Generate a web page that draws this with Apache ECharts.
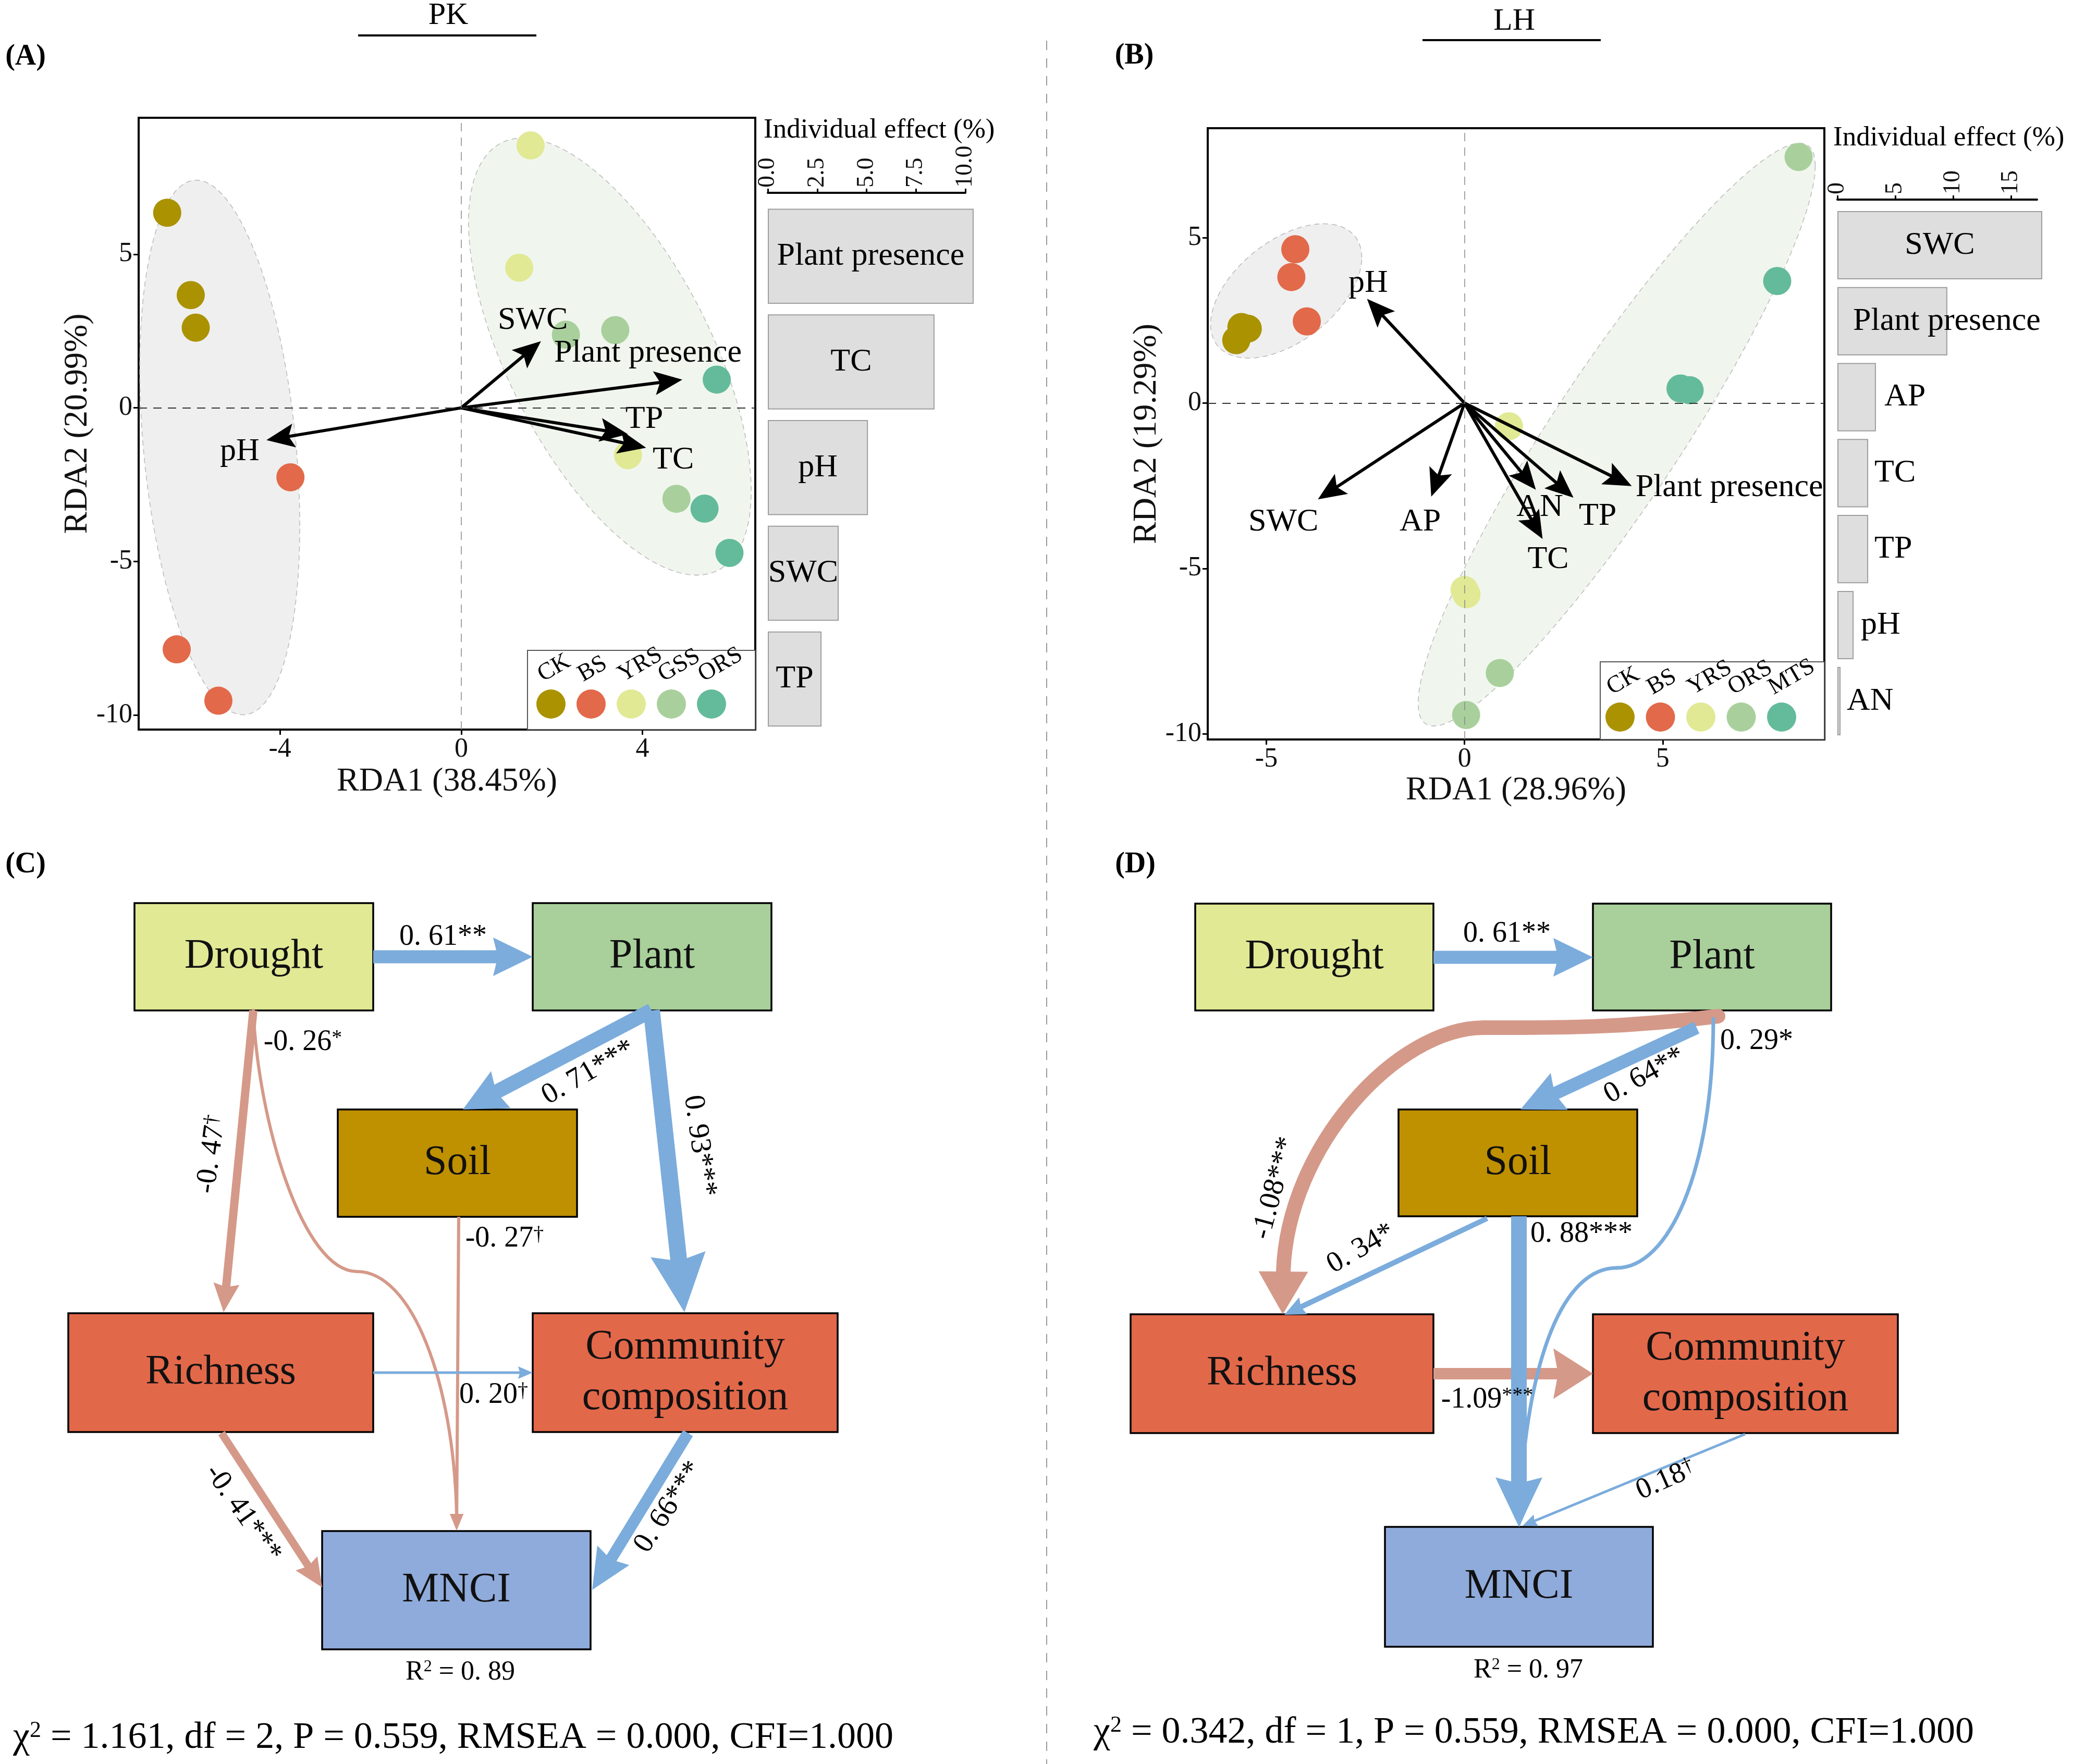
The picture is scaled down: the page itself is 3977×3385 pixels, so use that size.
<!DOCTYPE html>
<html><head><meta charset="utf-8">
<script src="https://cdn.jsdelivr.net/npm/echarts@6/dist/echarts.min.js"></script>
<style>html,body{margin:0;padding:0;background:#fff}#c{width:3977px;height:3385px}</style>
</head><body><div id="c"></div>
<script>
// ================= DATA =================
// Panel A (PK) RDA biplot
const groupsA = ['CK','BS','YRS','GSS','ORS'];
const pointsA = [
  [[-6.49,6.35],[-5.97,3.67],[-5.86,2.61]],
  [[-3.77,-2.26],[-6.28,-7.86],[-5.36,-9.53]],
  [[1.53,8.54],[1.28,4.56],[3.68,-1.54]],
  [[2.31,2.38],[3.40,2.53],[4.75,-2.96]],
  [[5.64,0.92],[5.37,-3.28],[5.92,-4.72]]
];
const envA = ['pH','SWC','Plant presence','TP','TC'];
const envTipsA = [[-4.30,-1.05],[1.76,2.17],[4.88,0.92],[3.68,-0.86],[4.08,-1.30]];
const envLabelPosA = [[-4.89,-1.42],[1.58,2.85],[4.12,1.78],[4.04,-0.37],[4.68,-1.69]];
// ellipse: centre x, centre y, var x, cov xy, var y (data units)
const ellipsesA = [[-5.33,-1.29,3.119,-4.50,75.69],[3.28,1.67,9.73,-13.64,50.6]];
const axisTitlesA = ['RDA1 (38.45%)','RDA2 (20.99%)'];
const effectVarsA = ['Plant presence','TC','pH','SWC','TP'];
const effectValsA = [10.42,8.44,5.07,3.59,2.72];
const effectTicksA = [0,2.5,5,7.5,10];

// Panel B (LH) RDA biplot
const groupsB = ['CK','BS','YRS','ORS','MTS'];
const pointsB = [
  [[-5.76,1.90],[-5.63,2.30],[-5.47,2.25]],
  [[-4.27,4.65],[-4.37,3.81],[-3.98,2.47]],
  [[1.12,-0.70],[0.00,-5.65],[0.05,-5.78]],
  [[8.43,7.44],[0.89,-8.16],[0.04,-9.43]],
  [[7.89,3.69],[5.45,0.44],[5.68,0.39]]
];
const envB = ['pH','SWC','AP','AN','TC','TP','Plant presence'];
const envTipsB = [[-2.46,3.15],[-3.70,-2.91],[-0.84,-2.83],[1.80,-2.62],[1.97,-4.11],[2.75,-2.86],[4.22,-2.51]];
const envLabelPosB = [[-2.43,3.62],[-4.57,-3.60],[-1.12,-3.60],[1.90,-3.15],[2.11,-4.73],[3.36,-3.43],[6.68,-2.56]];
const ellipsesB = [[-4.50,3.39,3.637,1.924,4.125],[3.84,-0.954,25.1,40.68,77.6]];
const axisTitlesB = ['RDA1 (28.96%)','RDA2 (19.29%)'];
const effectVarsB = ['SWC','Plant presence','AP','TC','TP','pH','AN'];
const effectValsB = [17.7,9.5,3.33,2.66,2.66,1.4,0.27];
const effectTicksB = [0,5,10,15];

// Panels C & D: structural equation models
const semNodes = ['Drought','Plant','Soil','Richness','Community','MNCI'];
const semNodeText = ['Drought','Plant','Soil','Richness','Community\ncomposition','MNCI'];
const semPathsC = [
  ['Drought','Plant',0.61,'0. 61**'],
  ['Drought','Richness',-0.47,'-0. 47^†'],
  ['Drought','MNCI',-0.26,'-0. 26^*'],
  ['Soil','MNCI',-0.27,'-0. 27^†'],
  ['Plant','Soil',0.71,'0. 71***'],
  ['Plant','Community',0.93,'0. 93***'],
  ['Richness','Community',0.20,'0. 20^†'],
  ['Richness','MNCI',-0.41,'-0. 41***'],
  ['Community','MNCI',0.66,'0. 66***']
];
const semPathsD = [
  ['Drought','Plant',0.61,'0. 61**'],
  ['Plant','Richness',-1.08,'-1.08***'],
  ['Plant','Soil',0.64,'0. 64**'],
  ['Plant','MNCI',0.29,'0. 29*'],
  ['Soil','Richness',0.34,'0. 34*'],
  ['Soil','MNCI',0.88,'0. 88***'],
  ['Richness','Community',-1.09,'-1.09^***'],
  ['Community','MNCI',0.18,'0.18^†']
];
const r2C = '0. 89', r2D = '0. 97';
const fitC = ' = 1.161, df = 2, P = 0.559, RMSEA = 0.000, CFI=1.000';
const fitD = ' = 0.342, df = 1, P = 0.559, RMSEA = 0.000, CFI=1.000';

// ================= STYLE / LAYOUT =================
const FONT = 'Liberation Serif';
const ptColorsA = ['#AA9200','#E2694A','#E1E995','#A9D09C','#64BB9B'];
const ptColorsB = ['#AA9200','#E2694A','#E1E995','#A9D09C','#64BB9B'];
const ellFills = ['#EFEFEF','#F0F6EE'];
const BLUE = '#7BACDC', PINK = '#D59989';
const nodeFill = {Drought:'#E1E995',Plant:'#A9D09B',Soil:'#BF9000',Richness:'#E2684A',Community:'#E2684A',MNCI:'#8FABDB'};
// diagram layout (pixel units of the hidden full-page grid)
const boxesC = {Drought:[258,1733,458,206],Plant:[1022,1733,458,206],Soil:[648,2129,459,206],
  Richness:[131,2520,585,228],Community:[1022,2520,585,228],MNCI:[618,2938,515,227]};
const boxesD = {Drought:[2293,1734,457,205],Plant:[3056,1734,457,205],Soil:[2683,2129,458,205],
  Richness:[2169,2522,581,228],Community:[3056,2522,585,228],MNCI:[2657,2930,514,230]};
const geomC = [
  {t:'line',p:[[716,1836],[1022,1836]],w:25,L:76,W:74,lab:[850,1798,0]},
  {t:'line',p:[[486,1939],[429,2518]],w:16,L:55,W:50,lab:[406,2215,82]},
  {t:'bez',p:[[486,1939],[495,2150],[580,2440],[685,2440],[790,2440],[870,2650],[876,2905]],tip:[876,2937],w:6,W:26,lab:[581,2000,0]},
  {t:'line',p:[[880,2335],[876,2937]],w:6,L:32,W:26,lab:[968,2377,0]},
  {t:'line',p:[[1250,1939],[888,2129]],w:28,L:82,W:80,lab:[1129,2058,30]},
  {t:'line',p:[[1250,1939],[1313,2518]],w:32,L:112,W:106,lab:[1342,2199,-82]},
  {t:'line',p:[[716,2634],[1022,2634]],w:5,L:28,W:24,lab:[947,2677,0]},
  {t:'line',p:[[425,2750],[618,3046]],w:15,L:55,W:50,lab:[466,2904,-55]},
  {t:'line',p:[[1320,2750],[1136,3051]],w:22,L:78,W:72,lab:[1283,2892,57]}
];
const geomD = [
  {t:'line',p:[[2750,1837],[3056,1837]],w:25,L:76,W:74,lab:[2891,1792,0]},
  {t:'bez',p:[[3296,1950],[3100,1975],[2950,1972],[2847,1972],[2680,1972],[2470,2200],[2462,2440]],tip:[2461,2522],w:28,W:95,lab:[2446,2280,75]},
  {t:'line',p:[[3255,1972],[2917,2129]],w:25,L:82,W:78,lab:[3155,2064,29]},
  {t:'bez',p:[[3287,1955],[3287,2250],[3200,2433],[3102,2433],[3000,2433],[2930,2600],[2915,2900]],tip:[2915,2930],w:7,W:26,lab:[3370,1998,0]},
  {t:'line',p:[[2853,2338],[2464,2523]],w:10,L:40,W:36,lab:[2611,2396,30]},
  {t:'line',p:[[2914,2334],[2914,2930]],w:30,L:95,W:90,lab:[3034,2368,0]},
  {t:'line',p:[[2750,2636],[3056,2636]],w:22,L:76,W:97,lab:[2853,2686,0]},
  {t:'line',p:[[3348,2752],[2921,2928]],w:5,L:28,W:24,lab:[3196,2840,24]}
];
const barLabelB = [['inside',0],['insideLeft',30],['right',16],['right',12],['right',12],['right',14],['right',12]];

// ================= HELPERS =================
function ellipseSeries(xi, data){
  return {type:'custom', xAxisIndex:xi, yAxisIndex:xi, z:1, silent:true, data:data,
    renderItem:function(params, api){
      const cx=api.value(0), cy=api.value(1), vxx=api.value(2), vxy=api.value(3), vyy=api.value(4);
      const l11=Math.sqrt(vxx), l21=vxy/l11, l22=Math.sqrt(Math.max(vyy-l21*l21,1e-6));
      const pts=[];
      for(let k=0;k<=160;k++){const t=2*Math.PI*k/160;
        pts.push(api.coord([cx+l11*Math.cos(t), cy+l21*Math.cos(t)+l22*Math.sin(t)]));}
      return {type:'polygon', shape:{points:pts},
        style:{fill:ellFills[params.dataIndex], stroke:'#BDBDBD', lineWidth:1.6, lineDash:[10,7]}};
    }};
}
function arrowHead(tip, u, L, W, notch){
  const bx=tip[0]-u[0]*L, by=tip[1]-u[1]*L, px=-u[1], py=u[0];
  const pts=[[tip[0],tip[1]],[bx+px*W/2,by+py*W/2]];
  if(notch) pts.push([bx+u[0]*L*notch, by+u[1]*L*notch]);
  pts.push([bx-px*W/2,by-py*W/2]);
  return pts;
}
function envArrowSeries(xi, names, tips, labs){
  return {type:'custom', xAxisIndex:xi, yAxisIndex:xi, z:3, silent:true,
    data: tips.map((t,i)=>[t[0],t[1],labs[i][0],labs[i][1]]),
    renderItem:function(params, api){
      const p0=api.coord([0,0]), p1=api.coord([api.value(0),api.value(1)]);
      const dx=p1[0]-p0[0], dy=p1[1]-p0[1], len=Math.hypot(dx,dy), u=[dx/len,dy/len];
      const L=54, W=46;
      const lp=api.coord([api.value(2),api.value(3)]);
      return {type:'group', children:[
        {type:'line', shape:{x1:p0[0],y1:p0[1],x2:p1[0]-u[0]*L*0.7,y2:p1[1]-u[1]*L*0.7}, style:{stroke:'#000',lineWidth:6}},
        {type:'polygon', shape:{points:arrowHead(p1,u,L,W,0.2)}, style:{fill:'#000'}},
        {type:'text', x:lp[0], y:lp[1], style:{text:names[params.dataIndex], fontSize:62, fontFamily:FONT, fill:'#000', align:'center', verticalAlign:'middle'}}
      ]};
    }};
}
function scatterSeries(xi, groups, pts, colors){
  return groups.map((g,i)=>{
    const s={type:'scatter', name:g, xAxisIndex:xi, yAxisIndex:xi, z:2, symbol:'circle', symbolSize:54,
      itemStyle:{color:colors[i], opacity:1}, data:pts[i], silent:true};
    if(i===0){ s.markLine={silent:true, symbol:'none', label:{show:false}, animation:false,
      data:[{xAxis:0, lineStyle:{color:'#888', type:[16,12], width:1.5}},
            {yAxis:0, lineStyle:{color:'#333', type:[16,12], width:2}}]}; }
    return s;
  });
}
function scatterAxes(gi, xr, yr, xt, yt, titles, xGap, yGap){
  const lab={fontSize:52, color:'#111', fontFamily:FONT, margin:12};
  const tick={show:true, length:10, lineStyle:{color:'#000', width:3}};
  return [
    {gridIndex:gi, type:'value', min:xr[0], max:xr[1], axisLine:{show:true,onZero:false,lineStyle:{color:'#000',width:4}},
      axisTick:Object.assign({customValues:xt},tick), axisLabel:Object.assign({customValues:xt},lab), splitLine:{show:false},
      name:titles[0], nameLocation:'middle', nameGap:xGap, nameTextStyle:{fontSize:64, color:'#111', fontFamily:FONT}},
    {gridIndex:gi, type:'value', min:yr[0], max:yr[1], axisLine:{show:true,onZero:false,lineStyle:{color:'#000',width:4}},
      axisTick:Object.assign({customValues:yt},tick), axisLabel:Object.assign({customValues:yt},lab), splitLine:{show:false},
      name:titles[1], nameLocation:'middle', nameGap:yGap, nameTextStyle:{fontSize:64, color:'#111', fontFamily:FONT}}
  ];
}
function barXAxis(gi, max, ticks, offset, decimals){
  return {gridIndex:gi, type:'value', position:'top', min:0, max:max, offset:offset,
    axisLine:{show:true, onZero:false, lineStyle:{color:'#000', width:4}},
    axisTick:{show:true, length:8, customValues:ticks, lineStyle:{color:'#000', width:3}},
    axisLabel:{rotate:-90, fontSize:46, color:'#111', fontFamily:FONT, margin:10, customValues:ticks,
      formatter:v=>Number(v).toFixed(decimals)}, splitLine:{show:false}};
}
function barSeries(gi, names, vals, placement){
  return {type:'bar', xAxisIndex:gi, yAxisIndex:gi, barCategoryGap:'10%', clip:false, silent:true,
    itemStyle:{color:'#DEDEDE', borderColor:'#9E9E9E', borderWidth:2},
    label:{show:true, position:'inside', formatter:'{b}', fontSize:62, fontFamily:FONT, color:'#000'},
    data: vals.map((v,i)=>{
      const d={value:v, name:names[i]};
      if(placement) d.label={position:placement[i][0], distance:placement[i][1]};
      return d;
    })};
}
function richLabel(s){
  const parts=s.split('^');
  return parts.length>1 ? '{n|'+parts[0]+'}{s|'+parts[1]+'}' : '{n|'+parts[0]+'}';
}
const labRich = {n:{fontSize:56, fontFamily:FONT, fill:'#000'}, s:{fontSize:40, fontFamily:FONT, fill:'#000', verticalAlign:'top'}};
function nodeSeries(boxes){
  return {type:'custom', xAxisIndex:4, yAxisIndex:4, z:4, silent:true,
    data: semNodes.map((n,i)=>[boxes[n][0], boxes[n][1]]),
    renderItem:function(params, api){
      const n=semNodes[params.dataIndex], b=boxes[n];
      const a=api.coord([b[0],b[1]]), c=api.coord([b[0]+b[2],b[1]+b[3]]);
      return {type:'group', children:[
        {type:'rect', shape:{x:a[0],y:a[1],width:c[0]-a[0],height:c[1]-a[1]}, style:{fill:nodeFill[n], stroke:'#000', lineWidth:3.5}},
        {type:'text', x:(a[0]+c[0])/2, y:(a[1]+c[1])/2, style:{text:semNodeText[params.dataIndex], fontSize:80, lineHeight:97,
          fontFamily:FONT, fill:'#111', align:'center', verticalAlign:'middle'}}
      ]};
    }};
}
function edgeSeries(paths, geom){
  return {type:'custom', xAxisIndex:4, yAxisIndex:4, z:5, silent:true,
    data: paths.map((e,i)=>geom[i].p[0]),
    renderItem:function(params, api){
      const e=paths[params.dataIndex], g=geom[params.dataIndex];
      const col = e[2]>=0 ? BLUE : PINK, z2 = e[2]>=0 ? 2 : 1;
      const ch=[];
      if(g.t==='line'){
        const P0=api.coord(g.p[0]), T=api.coord(g.p[1]);
        const dx=T[0]-P0[0], dy=T[1]-P0[1], len=Math.hypot(dx,dy), u=[dx/len,dy/len];
        ch.push({type:'line', z2:z2, shape:{x1:P0[0],y1:P0[1],x2:T[0]-u[0]*g.L*0.75,y2:T[1]-u[1]*g.L*0.75}, style:{stroke:col,lineWidth:g.w}});
        ch.push({type:'polygon', z2:z2, shape:{points:arrowHead(T,u,g.L,g.W,0.12)}, style:{fill:col}});
      } else {
        const P=g.p.map(q=>api.coord(q));
        for(let k=0;k+3<P.length;k+=3){
          ch.push({type:'bezierCurve', z2:z2, shape:{x1:P[k][0],y1:P[k][1],cpx1:P[k+1][0],cpy1:P[k+1][1],cpx2:P[k+2][0],cpy2:P[k+2][1],x2:P[k+3][0],y2:P[k+3][1]},
            style:{stroke:col, lineWidth:g.w, fill:null, lineCap:'round'}});
        }
        const E=P[P.length-1], T=api.coord(g.tip);
        const dx=T[0]-E[0], dy=T[1]-E[1], len=Math.hypot(dx,dy), u=[dx/len,dy/len];
        ch.push({type:'polygon', z2:z2, shape:{points:arrowHead(T,u,len,g.W,0)}, style:{fill:col}});
      }
      const lp=api.coord([g.lab[0],g.lab[1]]);
      ch.push({type:'text', z2:3, x:lp[0], y:lp[1], rotation:g.lab[2]*Math.PI/180,
        style:{text:richLabel(e[3]), rich:labRich, align:'center', verticalAlign:'middle'}});
      return {type:'group', children:ch};
    }};
}
function legendGraphics(box, cx0, step, cy, names, colors){
  const els=[{type:'rect', shape:{x:box[0],y:box[1],width:box[2],height:box[3]}, style:{fill:'#fff', stroke:'#555', lineWidth:2}, z:50}];
  names.forEach((n,i)=>{
    const cx=cx0+i*step;
    els.push({type:'circle', shape:{cx:cx,cy:cy,r:28}, style:{fill:colors[i]}, z:51});
    els.push({type:'text', x:cx-10, y:cy-33, rotation:Math.PI/6, z:51,
      style:{text:n, fontSize:46, fontFamily:FONT, fill:'#000', align:'left', verticalAlign:'bottom'}});
  });
  return els;
}
function txt(x,y,s,size,opts){
  return Object.assign({type:'text', x:x, y:y, z:60, style:Object.assign({text:s, fontSize:size, fontFamily:FONT, fill:'#000', align:'center', verticalAlign:'middle'}, (opts||{}).style||{})}, (opts||{}).el||{});
}

// ================= OPTION =================
const supRich = (a,b)=>({n:{fontSize:a,fontFamily:FONT},s:{fontSize:b,fontFamily:FONT,verticalAlign:'top'}});
const graphics = [].concat(
  [txt(860,30,'PK',60), {type:'line', z:60, shape:{x1:687,y1:68,x2:1029,y2:68}, style:{stroke:'#000',lineWidth:4}},
   txt(2905,41,'LH',60), {type:'line', z:60, shape:{x1:2729,y1:77,x2:3071,y2:77}, style:{stroke:'#000',lineWidth:4}},
   txt(49,110,'(A)',56,{style:{fontWeight:'bold'}}), txt(2176,108,'(B)',56,{style:{fontWeight:'bold'}}),
   txt(49,1660,'(C)',56,{style:{fontWeight:'bold'}}), txt(2178,1660,'(D)',56,{style:{fontWeight:'bold'}}),
   {type:'line', z:60, shape:{x1:2008,y1:78,x2:2008,y2:3385}, style:{stroke:'#999',lineWidth:2,lineDash:[18,16]}},
   txt(1465,250,'Individual effect (%)',53,{style:{align:'left'}}),
   txt(3517,265,'Individual effect (%)',53,{style:{align:'left'}}),
   txt(883,3209,'{n|R}{s|2}{n| = '+r2C+'}',52,{style:{rich:supRich(52,32)}}),
   txt(2932,3205,'{n|R}{s|2}{n| = '+r2D+'}',52,{style:{rich:supRich(52,32)}}),
   txt(25,3335,'{n|χ}{s|2}{n|'+fitC+'}',72,{style:{align:'left',rich:supRich(72,44)}}),
   txt(2098,3325,'{n|χ}{s|2}{n|'+fitD+'}',72,{style:{align:'left',rich:supRich(72,44)}})
  ],
  legendGraphics([1012,1248,437,152],1057,77,1351,groupsA,ptColorsA),
  legendGraphics([3070,1270,430,149],3108,77.5,1376,groupsB,ptColorsB)
);

const axA = scatterAxes(0,[-7.12,6.49],[-10.47,9.44],[-4,0,4],[-10,-5,0,5],axisTitlesA,68,65);
const axB = scatterAxes(2,[-6.48,9.08],[-10.17,8.31],[-5,0,5],[-10,-5,0,5],axisTitlesB,66,73);

const option = {
  animation:false,
  backgroundColor:'#fff',
  textStyle:{fontFamily:FONT},
  grid:[
    {left:266, top:226, width:1183, height:1174, show:true, borderColor:'#000', borderWidth:4, outerBoundsMode:'none'},
    {left:1473, top:390.3, width:379, height:1014, outerBoundsMode:'none'},
    {left:2317, top:246, width:1183, height:1173, show:true, borderColor:'#000', borderWidth:4, outerBoundsMode:'none'},
    {left:3525, top:397.6, width:383, height:1020.6, outerBoundsMode:'none'},
    {left:0, top:0, width:3977, height:3385, outerBoundsMode:'none'}
  ],
  xAxis:[axA[0], barXAxis(1,10,effectTicksA,20.3,1), axB[0], barXAxis(3,17.25,effectTicksB,14.6,0),
    {gridIndex:4, type:'value', min:0, max:3977, show:false}],
  yAxis:[axA[1], {gridIndex:1, type:'category', inverse:true, data:effectVarsA, show:false},
    axB[1], {gridIndex:3, type:'category', inverse:true, data:effectVarsB, show:false},
    {gridIndex:4, type:'value', min:0, max:3385, inverse:true, show:false}],
  graphic:{elements:graphics},
  series:[].concat(
    [ellipseSeries(0, ellipsesA)],
    scatterSeries(0, groupsA, pointsA, ptColorsA),
    [envArrowSeries(0, envA, envTipsA, envLabelPosA)],
    [barSeries(1, effectVarsA, effectValsA, null)],
    [ellipseSeries(2, ellipsesB)],
    scatterSeries(2, groupsB, pointsB, ptColorsB),
    [envArrowSeries(2, envB, envTipsB, envLabelPosB)],
    [barSeries(3, effectVarsB, effectValsB, barLabelB)],
    [nodeSeries(boxesC), edgeSeries(semPathsC, geomC), nodeSeries(boxesD), edgeSeries(semPathsD, geomD)]
  )
};
const chart = echarts.init(document.getElementById('c'), null, {renderer:'canvas', width:3977, height:3385});
chart.setOption(option);
</script>
</body></html>
